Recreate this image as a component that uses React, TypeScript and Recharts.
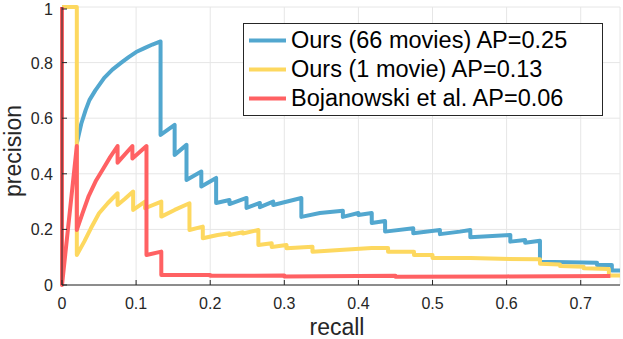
import { LineChart, Line, XAxis, YAxis, CartesianGrid, Legend, Label } from "recharts";

// [recall, precision] pairs
const OURS_66: [number, number][] = [
  [0.02, 0.51], [0.026, 0.58], [0.032, 0.63], [0.037, 0.665], [0.045, 0.7], [0.057, 0.745],
  [0.068, 0.775], [0.08, 0.8], [0.09, 0.82], [0.1, 0.838], [0.112, 0.853], [0.122, 0.865],
  [0.133, 0.876], [0.133, 0.54], [0.152, 0.576], [0.152, 0.468], [0.168, 0.504], [0.168, 0.378],
  [0.188, 0.408], [0.188, 0.354], [0.208, 0.385], [0.208, 0.295], [0.226, 0.306], [0.226, 0.291],
  [0.249, 0.313], [0.249, 0.277], [0.267, 0.295], [0.267, 0.28], [0.285, 0.3], [0.285, 0.288],
  [0.323, 0.313], [0.323, 0.245], [0.348, 0.259], [0.379, 0.267], [0.379, 0.245], [0.4, 0.259],
  [0.4, 0.252], [0.418, 0.259], [0.418, 0.223], [0.436, 0.23], [0.436, 0.192], [0.474, 0.204],
  [0.474, 0.186], [0.51, 0.198], [0.51, 0.183], [0.537, 0.192], [0.551, 0.198], [0.551, 0.172],
  [0.605, 0.18], [0.605, 0.156], [0.625, 0.162], [0.625, 0.152], [0.645, 0.159], [0.645, 0.084],
  [0.722, 0.08], [0.722, 0.072], [0.742, 0.072], [0.742, 0.052], [0.753, 0.052],
];

const OURS_1: [number, number][] = [
  [0, 1], [0.02, 1], [0.02, 0.108], [0.03, 0.156], [0.039, 0.204], [0.05, 0.258], [0.062, 0.295],
  [0.075, 0.33], [0.075, 0.288], [0.085, 0.31], [0.096, 0.336], [0.096, 0.27], [0.112, 0.3],
  [0.112, 0.276], [0.134, 0.3], [0.134, 0.246], [0.152, 0.27], [0.172, 0.294], [0.172, 0.198],
  [0.19, 0.21], [0.19, 0.168], [0.21, 0.18], [0.226, 0.186], [0.226, 0.18], [0.244, 0.19],
  [0.244, 0.185], [0.265, 0.198], [0.265, 0.144], [0.283, 0.15], [0.283, 0.137], [0.303, 0.144],
  [0.303, 0.132], [0.338, 0.138], [0.338, 0.12], [0.38, 0.127], [0.418, 0.133], [0.44, 0.133],
  [0.44, 0.12], [0.475, 0.12], [0.475, 0.108], [0.5, 0.108], [0.5, 0.097], [0.551, 0.097],
  [0.591, 0.094], [0.645, 0.093], [0.645, 0.076], [0.672, 0.074], [0.672, 0.068], [0.704, 0.066],
  [0.704, 0.06], [0.738, 0.058], [0.738, 0.034], [0.753, 0.034],
];

const BOJANOWSKI: [number, number][] = [
  [0, 1], [0, 0], [0.02, 0.5], [0.02, 0.198], [0.028, 0.26], [0.036, 0.32], [0.046, 0.376],
  [0.056, 0.42], [0.065, 0.46], [0.075, 0.5], [0.075, 0.44], [0.095, 0.5], [0.095, 0.455],
  [0.114, 0.5], [0.114, 0.108], [0.134, 0.12], [0.134, 0.036], [0.2, 0.036], [0.2, 0.033],
  [0.3, 0.034], [0.3, 0.031], [0.45, 0.033], [0.45, 0.03], [0.6, 0.031], [0.74, 0.032],
];

const SERIES = [
  { name: "Ours (66 movies) AP=0.25", color: "#52a7cf", points: OURS_66 },
  { name: "Ours (1 movie) AP=0.13", color: "#fdd85f", points: OURS_1 },
  { name: "Bojanowski et al. AP=0.06", color: "#ff6163", points: BOJANOWSKI },
];

const X_TICKS = [0, 0.1, 0.2, 0.3, 0.4, 0.5, 0.6, 0.7];
const Y_TICKS = [0, 0.2, 0.4, 0.6, 0.8, 1];

const FONT = "'Liberation Sans', Arial, Helvetica, sans-serif";
const INK = "#262626";

function XTick(props: any) {
  const { x, y, payload } = props;
  return (
    <g>
      <line x1={x} y1={y} x2={x} y2={y - 5} stroke={INK} />
      <text x={x} y={y + 24} textAnchor="middle" fontSize={16} fill={INK} fontFamily={FONT}>
        {payload.value}
      </text>
    </g>
  );
}

function YTick(props: any) {
  const { x, y, payload } = props;
  return (
    <g>
      <line x1={x} y1={y} x2={x + 5} y2={y} stroke={INK} />
      <text x={x - 9} y={y + 6} textAnchor="end" fontSize={16} fill={INK} fontFamily={FONT}>
        {payload.value}
      </text>
    </g>
  );
}

function LegendBox() {
  return (
    <div
      style={{
        border: `1px solid ${INK}`,
        background: "#fff",
        width: 358,
        height: 89,
        paddingTop: 2,
        boxSizing: "content-box",
        fontFamily: FONT,
      }}
    >
      {SERIES.map((s) => (
        <div key={s.name} style={{ display: "flex", alignItems: "center", height: 29 }}>
          <svg width={47} height={29}>
            <line x1={5} y1={14.5} x2={42} y2={14.5} stroke={s.color} strokeWidth={4} />
          </svg>
          <span style={{ fontSize: 23.5, color: "#000", whiteSpace: "nowrap" }}>{s.name}</span>
        </div>
      ))}
    </div>
  );
}

export default function App() {
  return (
    <div style={{ position: "absolute", left: 0, top: 0 }}>
      <LineChart width={623} height={339} margin={{ top: 7, right: 3, left: 0, bottom: 0 }}>
        <CartesianGrid stroke="#e6e6e6" strokeWidth={1} />
        <XAxis
          type="number"
          dataKey="r"
          domain={[0, 0.753]}
          ticks={X_TICKS}
          height={54}
          tickSize={0}
          tickMargin={0}
          tickLine={false}
          axisLine={{ stroke: INK }}
          tick={XTick}
        >
          <Label
            content={({ viewBox }: any) => (
              <text
                x={viewBox.x + viewBox.width / 2 - 4}
                y={viewBox.y + 50}
                textAnchor="middle"
                fontSize={23}
                fill={INK}
                fontFamily={FONT}
              >
                recall
              </text>
            )}
          />
        </XAxis>
        <YAxis
          type="number"
          dataKey="p"
          domain={[0, 1]}
          ticks={Y_TICKS}
          width={62}
          tickSize={0}
          tickMargin={0}
          tickLine={false}
          axisLine={{ stroke: INK }}
          tick={YTick}
        >
          <Label
            content={({ viewBox }: any) => {
              const cx = 21;
              const cy = viewBox.y + viewBox.height / 2 + 5;
              return (
                <text
                  x={cx}
                  y={cy}
                  transform={`rotate(-90 ${cx} ${cy})`}
                  textAnchor="middle"
                  fontSize={23}
                  fill={INK}
                  fontFamily={FONT}
                >
                  precision
                </text>
              );
            }}
          />
        </YAxis>
        <Legend
          layout="vertical"
          align="center"
          verticalAlign="middle"
          content={() => <LegendBox />}
          wrapperStyle={{ left: 243, top: 23, width: 360 }}
        />
        {SERIES.map((s) => (
          <Line
            key={s.name}
            name={s.name}
            data={s.points.map(([r, p]) => ({ r, p }))}
            dataKey="p"
            type="linear"
            stroke={s.color}
            strokeWidth={4}
            strokeLinejoin="round"
            dot={false}
            activeDot={false}
            isAnimationActive={false}
          />
        ))}
      </LineChart>
    </div>
  );
}
